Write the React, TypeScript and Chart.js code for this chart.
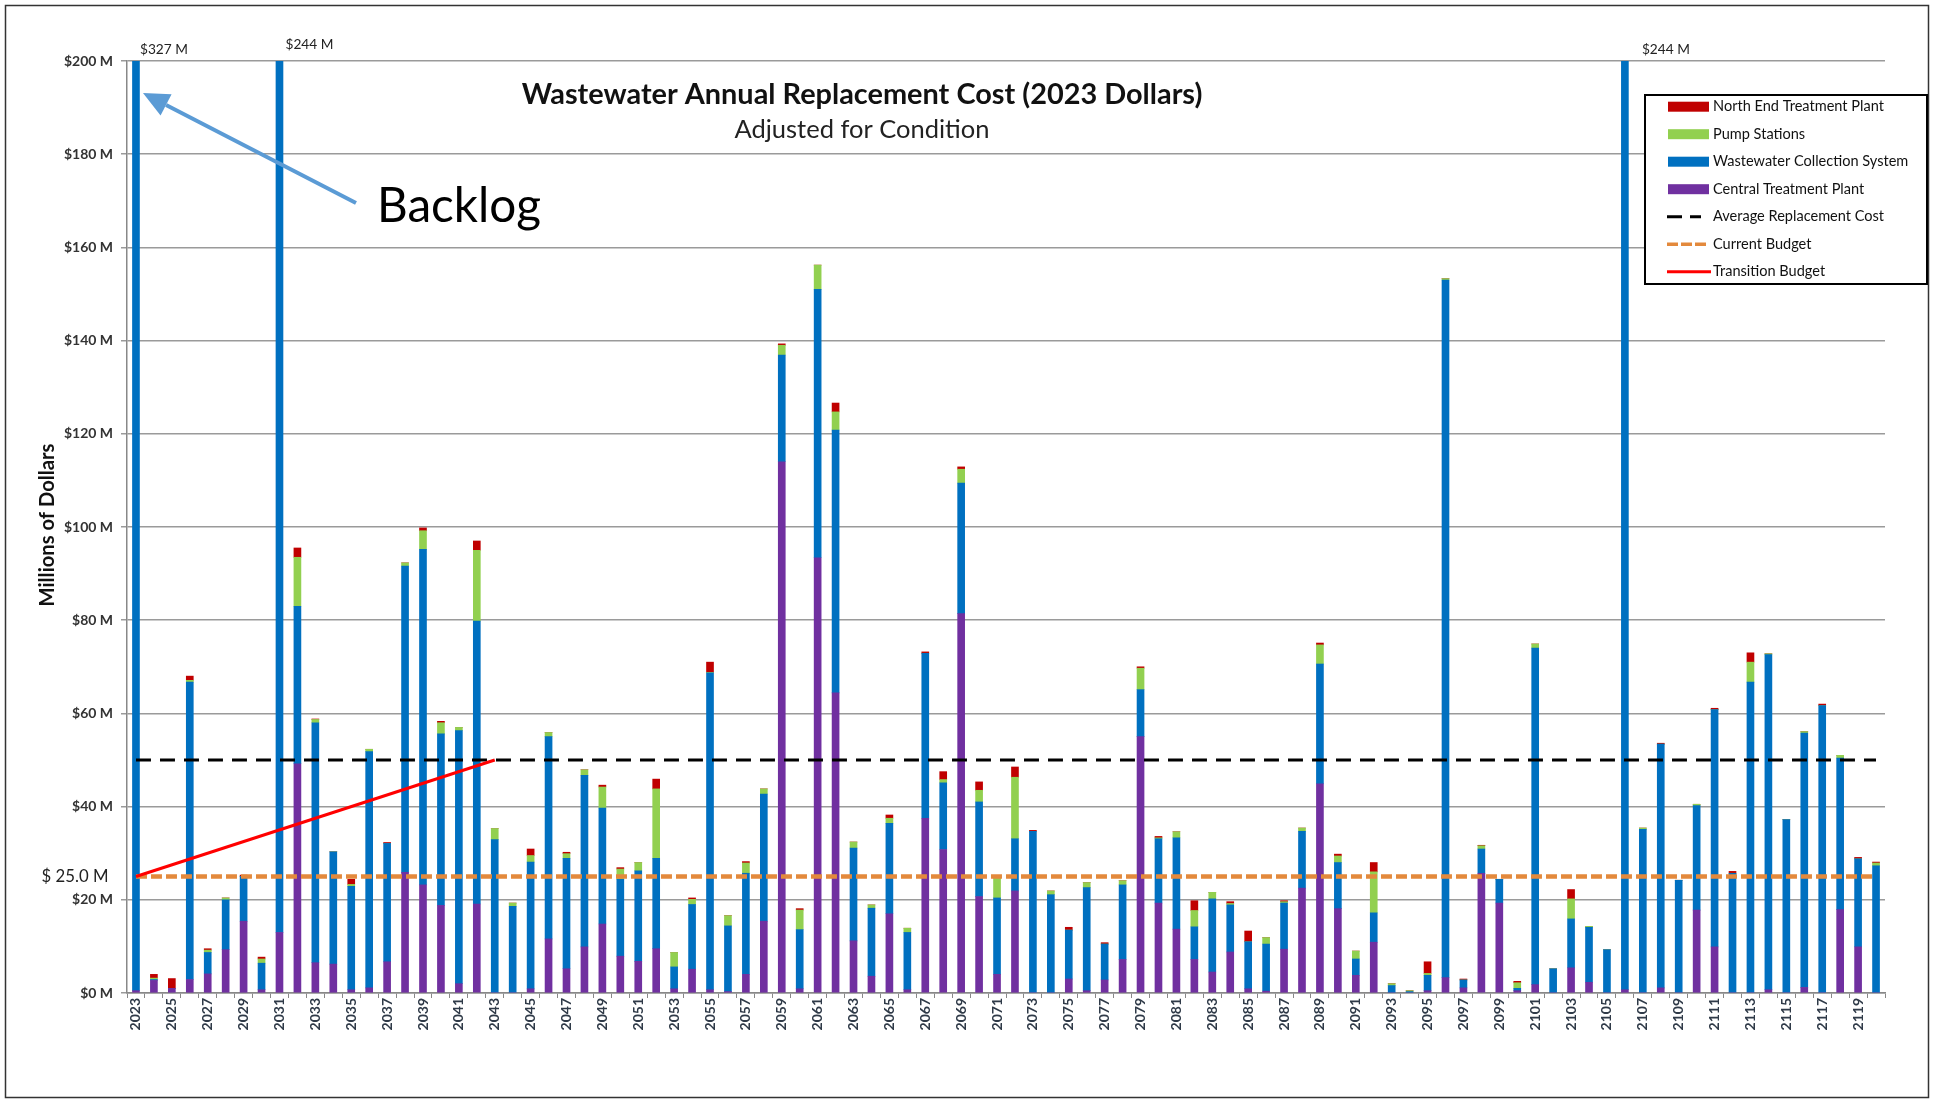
import React, { useEffect, useRef } from 'react';
import { Chart, registerables } from 'chart.js';

Chart.register(...registerables);

// ---------- DATA ----------
const years = [
  '2023','2024','2025','2026','2027','2028','2029','2030','2031','2032',
  '2033','2034','2035','2036','2037','2038','2039','2040','2041','2042',
  '2043','2044','2045','2046','2047','2048','2049','2050','2051','2052',
  '2053','2054','2055','2056','2057','2058','2059','2060','2061','2062',
  '2063','2064','2065','2066','2067','2068','2069','2070','2071','2072',
  '2073','2074','2075','2076','2077','2078','2079','2080','2081','2082',
  '2083','2084','2085','2086','2087','2088','2089','2090','2091','2092',
  '2093','2094','2095','2096','2097','2098','2099','2100','2101','2102',
  '2103','2104','2105','2106','2107','2108','2109','2110','2111','2112',
  '2113','2114','2115','2116','2117','2118','2119','2120',
];

// Central Treatment Plant (purple), $M
const centralTreatment = [
  0.5, 2.7, 1.0, 2.9, 4.1, 9.3, 15.4, 0.7, 13.0, 49.2,
  6.5, 6.2, 0.7, 1.1, 6.7, 25.9, 23.2, 18.8, 2.0, 19.1,
  0, 0, 0.9, 11.6, 5.2, 9.9, 14.8, 7.9, 6.8, 9.5,
  0.9, 5.1, 0.7, 0.3, 4.0, 15.4, 114.0, 0.9, 93.4, 64.4,
  11.2, 3.6, 17.0, 0.7, 37.5, 30.8, 81.4, 20.7, 4.0, 21.9,
  0, 0, 3.0, 0.5, 2.8, 7.2, 55.0, 19.3, 13.7, 7.2,
  4.5, 8.8, 0.9, 0.4, 9.4, 22.5, 44.9, 18.1, 3.8, 10.9,
  0, 0, 0.5, 3.3, 1.1, 25.7, 19.3, 0.5, 1.8, 0,
  5.4, 2.3, 0, 0.7, 0, 1.1, 0, 17.8, 9.9, 0,
  0, 0.7, 0, 1.2, 0, 17.9, 9.9, 0,
];

// Wastewater Collection System (blue), $M
const collectionSystem = [
  326.5, 0.2, 0, 63.8, 4.6, 10.7, 9.6, 5.7, 231.0, 33.8,
  51.5, 24.1, 22.2, 50.7, 25.4, 65.7, 72.0, 36.8, 54.3, 60.7,
  32.9, 18.6, 27.2, 43.4, 23.7, 36.8, 24.9, 16.5, 19.4, 19.4,
  4.7, 13.9, 68.0, 14.1, 21.7, 27.3, 22.9, 12.7, 57.6, 56.4,
  19.9, 14.6, 19.4, 12.3, 35.4, 14.3, 28.0, 20.3, 16.4, 11.2,
  34.7, 21.1, 10.5, 22.1, 7.7, 16.0, 10.1, 13.8, 19.6, 7.0,
  15.7, 10.1, 10.1, 10.1, 9.9, 12.2, 25.7, 9.9, 3.5, 6.3,
  1.6, 0.3, 3.3, 149.7, 1.7, 5.2, 5.1, 0.5, 72.2, 5.2,
  10.5, 11.8, 9.3, 243.3, 35.1, 52.3, 24.2, 22.4, 50.9, 25.7,
  66.7, 71.9, 37.2, 54.6, 61.7, 32.5, 18.9, 27.3,
];

// Pump Stations (green), $M
const pumpStations = [
  0, 0.3, 0, 0.4, 0.5, 0.4, 0, 0.9, 0, 10.5,
  0.7, 0, 0.4, 0.5, 0, 0.7, 4.0, 2.4, 0.7, 15.2,
  2.4, 0.7, 1.4, 0.9, 1.0, 1.2, 4.5, 2.2, 1.8, 14.9,
  3.1, 1.1, 0.1, 2.2, 2.2, 1.1, 2.1, 4.2, 5.2, 3.9,
  1.3, 0.7, 1.1, 0.9, 0, 0.7, 3.0, 2.5, 4.3, 13.2,
  0, 0.8, 0, 1.1, 0, 0.9, 4.6, 0.2, 1.3, 3.5,
  1.4, 0.3, 0, 1.4, 0.3, 0.7, 4.1, 1.4, 1.7, 8.8,
  0.4, 0.2, 0.4, 0.3, 0, 0.7, 0, 1.2, 0.9, 0,
  4.3, 0.2, 0, 0, 0.3, 0, 0, 0.3, 0, 0,
  4.3, 0.2, 0, 0.3, 0, 0.6, 0, 0.6,
];

// North End Treatment Plant (red), $M
const northEnd = [
  0, 0.8, 2.1, 0.9, 0.3, 0, 0.3, 0.4, 0, 2.0,
  0.1, 0, 1.1, 0, 0.2, 0, 0.6, 0.3, 0, 2.0,
  0, 0, 1.4, 0, 0.3, 0, 0.4, 0.3, 0, 2.1,
  0, 0.3, 2.2, 0, 0.3, 0, 0.3, 0.3, 0, 1.9,
  0, 0, 0.7, 0, 0.3, 1.7, 0.5, 1.8, 0, 2.2,
  0.2, 0, 0.6, 0, 0.3, 0, 0.3, 0.3, 0, 2.1,
  0, 0.4, 2.3, 0, 0.2, 0, 0.4, 0.4, 0, 2.0,
  0, 0, 2.5, 0, 0.2, 0.1, 0, 0.3, 0, 0,
  2.0, 0, 0, 0, 0, 0.2, 0, 0, 0.3, 0.4,
  2.0, 0, 0, 0, 0.3, 0, 0.3, 0.2,
];

const averageReplacementCost = [
  { year: '2023', value: 50 },
  { year: '2120', value: 50 },
];
const currentBudget = [
  { year: '2023', value: 25 },
  { year: '2120', value: 25 },
];
const transitionBudget = [
  { year: '2023', value: 25 },
  { year: '2043', value: 50 },
];

const yTickValues = [0, 20, 40, 60, 80, 100, 120, 140, 160, 180, 200];
const offScaleLabels = [
  { year: '2023', text: '$327 M' },
  { year: '2031', text: '$244 M' },
  { year: '2106', text: '$244 M' },
];
const budgetLabel = { value: 25, text: '$ 25.0 M' };

const legendItems = [
  { label: 'North End Treatment Plant', kind: 'bar', color: '#C00000' },
  { label: 'Pump Stations', kind: 'bar', color: '#92D050' },
  { label: 'Wastewater Collection System', kind: 'bar', color: '#0070C0' },
  { label: 'Central Treatment Plant', kind: 'bar', color: '#7030A0' },
  { label: 'Average Replacement Cost', kind: 'avg', color: '#000000' },
  { label: 'Current Budget', kind: 'cur', color: '#E3893C' },
  { label: 'Transition Budget', kind: 'tr', color: '#FF0000' },
];

const TITLE = 'Wastewater Annual Replacement Cost (2023 Dollars)';
const SUBTITLE = 'Adjusted for Condition';
const Y_TITLE = 'Millions of Dollars';
const BACKLOG = 'Backlog';

// ---------- STYLE ----------
const FAMILY = 'Lato, "Open Sans", "DejaVu Sans", sans-serif';
const W = 1934;
const H = 1103;

function fitFont(ctx: CanvasRenderingContext2D, text: string, weight: string, width: number) {
  ctx.font = `${weight} 100px ${FAMILY}`;
  const w = ctx.measureText(text).width;
  const size = (100 * width) / w;
  return `${weight} ${size.toFixed(2)}px ${FAMILY}`;
}

const overlayPlugin = {
  id: 'overlay',
  afterDraw(chart: any) {
    const ctx: CanvasRenderingContext2D = chart.ctx;
    const xs = chart.scales.x;
    const ys = chart.scales.y;
    ctx.save();

    // outer frame
    ctx.strokeStyle = '#333';
    ctx.lineWidth = 1.5;
    ctx.strokeRect(5.5, 5.5, W - 11, H - 11);

    // title & subtitle
    ctx.fillStyle = '#111';
    ctx.textAlign = 'center';
    ctx.textBaseline = 'middle';
    ctx.font = fitFont(ctx, TITLE, 'bold', 681);
    ctx.fillText(TITLE, 862, 95);
    ctx.font = fitFont(ctx, SUBTITLE, 'normal', 255);
    ctx.fillStyle = '#222';
    ctx.fillText(SUBTITLE, 862, 130);

    // off-scale labels
    ctx.fillStyle = '#222';
    ctx.textAlign = 'left';
    ctx.font = fitFont(ctx, '$327 M', 'normal', 48);
    const offs = [
      { dx: 4, y: 50 },
      { dx: 6, y: 45 },
      { dx: 17, y: 50 },
    ];
    offScaleLabels.forEach((l, i) => {
      const px = xs.getPixelForValue(years.indexOf(l.year));
      ctx.fillText(l.text, px + offs[i].dx, offs[i].y);
    });

    // $ 25.0 M label
    ctx.textAlign = 'right';
    ctx.font = fitFont(ctx, budgetLabel.text, 'normal', 67);
    ctx.fillStyle = '#222';
    ctx.fillText(budgetLabel.text, 108.5, ys.getPixelForValue(budgetLabel.value));

    // y title
    ctx.save();
    ctx.translate(47, (ys.top + ys.bottom) / 2 - 2);
    ctx.rotate(-Math.PI / 2);
    ctx.textAlign = 'center';
    ctx.font = fitFont(ctx, Y_TITLE, 'bold', 163);
    ctx.fillStyle = '#111';
    ctx.fillText(Y_TITLE, 0, 0);
    ctx.restore();

    // Backlog arrow
    const x0 = xs.getPixelForValue(0);
    const tip = { x: x0 + 7, y: 93 };
    const tail = { x: 356, y: 203 };
    ctx.strokeStyle = '#5B9BD5';
    ctx.fillStyle = '#5B9BD5';
    ctx.lineWidth = 4;
    const ang = Math.atan2(tip.y - tail.y, tip.x - tail.x);
    const headLen = 26;
    const headW = 12;
    const bx = tip.x - headLen * Math.cos(ang);
    const by = tip.y - headLen * Math.sin(ang);
    ctx.beginPath();
    ctx.moveTo(tail.x, tail.y);
    ctx.lineTo(bx, by);
    ctx.stroke();
    ctx.beginPath();
    ctx.moveTo(tip.x, tip.y);
    ctx.lineTo(bx + headW * Math.sin(ang), by - headW * Math.cos(ang));
    ctx.lineTo(bx - headW * Math.sin(ang), by + headW * Math.cos(ang));
    ctx.closePath();
    ctx.fill();

    ctx.fillStyle = '#000';
    ctx.textAlign = 'left';
    ctx.textBaseline = 'alphabetic';
    ctx.font = fitFont(ctx, BACKLOG, 'normal', 164);
    ctx.fillText(BACKLOG, 377, 222);

    // legend
    const lx = 1645, ly = 95, lw = 282, lh = 189;
    ctx.fillStyle = '#fff';
    ctx.fillRect(lx, ly, lw, lh);
    ctx.strokeStyle = '#000';
    ctx.lineWidth = 2;
    ctx.strokeRect(lx, ly, lw, lh);
    ctx.font = fitFont(ctx, legendItems[0].label, 'normal', 171);
    ctx.textBaseline = 'middle';
    legendItems.forEach((it, i) => {
      const cy = 106.7 + i * 27.5;
      if (it.kind === 'bar') {
        ctx.fillStyle = it.color;
        ctx.fillRect(1668, cy - 5, 41, 10);
      } else {
        ctx.strokeStyle = it.color;
        ctx.beginPath();
        if (it.kind === 'avg') {
          ctx.lineWidth = 3;
          ctx.setLineDash([15, 8]);
          ctx.moveTo(1667, cy);
          ctx.lineTo(1701, cy);
        } else if (it.kind === 'cur') {
          ctx.lineWidth = 3.5;
          ctx.setLineDash([11, 3]);
          ctx.moveTo(1667, cy);
          ctx.lineTo(1707, cy);
        } else {
          ctx.lineWidth = 3;
          ctx.setLineDash([]);
          ctx.moveTo(1667, cy);
          ctx.lineTo(1711, cy);
        }
        ctx.stroke();
        ctx.setLineDash([]);
      }
      ctx.fillStyle = '#111';
      ctx.textAlign = 'left';
      ctx.fillText(it.label, 1713, cy);
    });

    ctx.restore();
  },
};

export default function App() {
  const ref = useRef<HTMLCanvasElement | null>(null);
  useEffect(() => {
    if (!ref.current) return;
    const lineDs = (label: string, pts: { year: string; value: number }[], color: string, width: number, dash: number[], stack: string) => ({
      type: 'line' as const,
      label,
      data: pts.map((p) => ({ x: p.year, y: p.value })),
      borderColor: color,
      backgroundColor: color,
      borderWidth: width,
      borderDash: dash,
      pointRadius: 0,
      fill: false,
      stack,
      order: 0,
    });
    const barDs = (label: string, data: number[], color: string) => ({
      type: 'bar' as const,
      label,
      data,
      backgroundColor: color,
      borderWidth: 0,
      barThickness: 7,
      stack: 'cost',
      order: 1,
    });
    const chart = new Chart(ref.current, {
      type: 'bar',
      data: {
        labels: years,
        datasets: [
          lineDs('Transition Budget', transitionBudget, '#FF0000', 3, [], 'tr'),
          lineDs('Average Replacement Cost', averageReplacementCost, '#000000', 3, [15, 9], 'avg'),
          lineDs('Current Budget', currentBudget, '#E3893C', 4.5, [11, 4], 'cur'),
          barDs('Central Treatment Plant', centralTreatment, '#7030A0'),
          barDs('Wastewater Collection System', collectionSystem, '#0070C0'),
          barDs('Pump Stations', pumpStations, '#92D050'),
          barDs('North End Treatment Plant', northEnd, '#C00000'),
        ] as any,
      },
      options: {
        animation: false,
        responsive: false,
        devicePixelRatio: 1,
        layout: { padding: { left: 0, top: 61, right: 49, bottom: 0 } },
        plugins: {
          legend: { display: false },
          tooltip: { enabled: false },
          title: { display: false },
        },
        scales: {
          x: {
            stacked: true,
            offset: true,
            grid: { offset: true, drawOnChartArea: false, drawTicks: true, tickLength: 5, color: '#888', lineWidth: 1 },
            border: { display: true, color: '#888', width: 1.5 },
            ticks: {
              autoSkip: false,
              minRotation: 90,
              maxRotation: 90,
              padding: 0,
              color: '#2f3a48',
              font: { family: FAMILY, size: 14, weight: 'bold' },
              callback: (_v: any, i: number) => (i % 2 === 0 ? years[i] : ''),
            },
            afterFit: (s: any) => {
              s.height = 110;
            },
          },
          y: {
            stacked: true,
            min: 0,
            max: 200,
            afterBuildTicks: (s: any) => {
              s.ticks = yTickValues.map((v) => ({ value: v }));
            },
            ticks: {
              padding: 8,
              color: '#333',
              font: { family: FAMILY, size: 14, weight: 'bold' },
              callback: (v: any) => `$${v} M`,
            },
            grid: { color: '#9a9a9a', lineWidth: 1.5, tickLength: 6, drawTicks: true },
            border: { display: true, color: '#888', width: 1.5 },
            afterFit: (s: any) => {
              s.width = 127;
            },
          },
        },
      } as any,
      plugins: [overlayPlugin],
    });
    return () => chart.destroy();
  }, []);

  return (
    <div style={{ position: 'fixed', left: 0, top: 0, width: W, height: H, background: '#fff' }}>
      <canvas ref={ref} width={W} height={H} style={{ width: W, height: H, display: 'block' }} />
    </div>
  );
}
